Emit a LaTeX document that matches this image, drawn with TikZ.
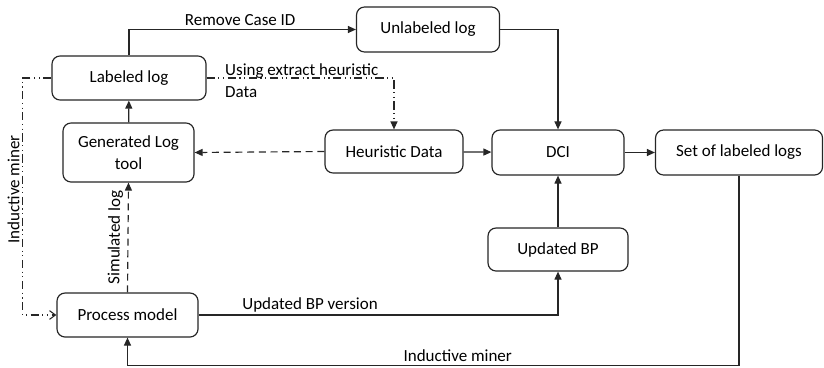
\documentclass[tikz,border=0pt]{standalone}
\usepackage{fontspec}
\setmainfont{Carlito}
\usetikzlibrary{arrows.meta}

\begin{document}
\begin{tikzpicture}[
  x=0.03cm, y=-0.03cm,
  font=\fontsize{14.5}{19}\selectfont,
  box/.style={
    draw=black!85,
    rounded corners=2.4mm,
    line width=1pt,
    align=center,
    inner sep=2pt,
    fill=white
  },
  arrow/.style={-{Triangle[length=2.4mm,width=2.1mm]}, line width=1pt, draw=black!85},
  dasharrow/.style={arrow, dash pattern=on 6pt off 4pt},
  dotarrow/.style={arrow, dash pattern=on 7pt off 3pt on 1pt off 3pt on 1pt off 3pt},
  looparrow/.style={-{Straight Barb[length=1.8mm,width=2.6mm]}, line width=0.9pt, draw=black!85,
    dash pattern=on 7pt off 3pt on 1pt off 3pt on 1pt off 3pt}
]
\useasboundingbox (0,0) rectangle (824,367);

% Left column: logs and model.
\node[box, minimum width=4.62cm, minimum height=1.32cm] (labeled)   at (129,78)    {Labeled log};
\node[box, minimum width=3.93cm, minimum height=1.77cm] (generator) at (128.5,152.5) {Generated Log\\tool};
\node[box, minimum width=4.23cm, minimum height=1.32cm] (model)     at (127.5,315) {Process model};

% Middle and right: DCI chain.
\node[box, minimum width=4.29cm, minimum height=1.35cm] (unlabeled) at (428,29.5)  {Unlabeled log};
\node[box, minimum width=4.14cm, minimum height=1.29cm] (heuristic) at (394,151.5) {Heuristic Data};
\node[box, minimum width=3.96cm, minimum height=1.35cm] (dci)       at (558,152.5) {DCI};
\node[box, minimum width=5.01cm, minimum height=1.35cm] (labeledset) at (739,152.5) {Set of labeled logs};
\node[box, minimum width=4.20cm, minimum height=1.29cm] (updated)   at (558,249.5) {Updated BP};

\draw[arrow] (labeled.north) |- node[pos=0.745, above, inner sep=3pt] {Remove Case ID} (unlabeled.west);
\draw[arrow] (unlabeled.east) -| (dci.north);
\draw[dotarrow] (labeled.east) -|
  node[pos=0.045, anchor=west, align=left, inner sep=1pt, yshift=-2.5pt] {Using extract heuristic\\Data}
  (heuristic.north);

\draw[dasharrow] (heuristic.west) -- (generator.east);
\draw[arrow] (heuristic) -- (dci);
\draw[arrow] (dci) -- (labeledset);
\draw[arrow] (generator) -- (labeled);

\draw[dasharrow] (model.north) -- node[midway, above, sloped, inner sep=4pt] {Simulated log} (generator.south);
\draw[arrow] (model.east) -| node[pos=0.155, above, inner sep=2pt] {Updated BP version} (updated.south);
\draw[arrow] (updated) -- (dci);

\draw[arrow] (labeledset.south) -- ++(0,190) -|
  node[pos=0.23, above, inner sep=3pt] {Inductive miner}
  (model.south);
\draw[looparrow] (labeled.west) -- ++(-29,0) |-
  node[pos=0.235, anchor=south, rotate=90, inner sep=2pt] {Inductive miner}
  (model.west);

\end{tikzpicture}
\end{document}
